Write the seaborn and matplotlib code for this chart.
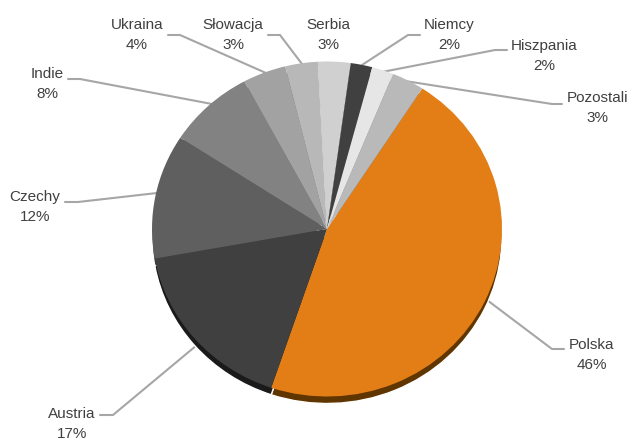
import matplotlib
matplotlib.use("Agg")
import matplotlib.pyplot as plt
import seaborn as sns

sns.set_theme(style="white")
plt.rcParams['font.family'] = ['Liberation Sans', 'DejaVu Sans']

# Data
countries = ["Polska", "Austria", "Czechy", "Indie", "Ukraina", "Słowacja",
             "Serbia", "Niemcy", "Hiszpania", "Pozostali"]
shares = [46, 17, 12, 8, 4, 3, 3, 2, 2, 3]

colors = ["#e37e16", "#404040", "#5f5f5f", "#828282", "#a2a2a2", "#b8b8b8",
          "#d0d0d0", "#404040", "#e6e6e6", "#b9b9b9"]
rim_colors = ["#5f3500", "#1a1a1a", "#333333", "#444444", "#555555", "#666666",
              "#777777", "#1a1a1a", "#888888", "#666666"]

# label centre and leader line, in reference pixels
label_pos = {
    "Polska": (592, 355), "Austria": (72, 424), "Czechy": (35, 207),
    "Indie": (47, 84), "Ukraina": (137, 35), "Słowacja": (233, 35),
    "Serbia": (328, 35), "Niemcy": (449, 35), "Hiszpania": (544, 56),
    "Pozostali": (597, 108),
}
leaders = [
    [(564, 349), (552, 349), (487, 300)],
    [(100, 415), (113, 415), (197, 345)],
    [(65, 202), (78, 202), (157, 193)],
    [(68, 79), (80, 79), (212, 104)],
    [(168, 35), (180, 35), (266, 73)],
    [(268, 35), (280, 35), (302, 64)],
    [(420, 35), (408, 35), (362, 65)],
    [(507, 50), (495, 50), (382, 72)],
    [(405, 81), (552, 104), (562, 104)],
]

W, H = 629, 442
cx, cy, rx, ry = 327, 229, 175, 167.5

fig = plt.figure(figsize=(W / 100, H / 100), dpi=100)

# overlay in pixel coordinates for the leader lines and labels
ax_txt = fig.add_axes([0, 0, 1, 1], zorder=1)
ax_txt.set_xlim(0, W)
ax_txt.set_ylim(H, 0)
ax_txt.axis("off")

ax = fig.add_axes([0, 0, 1, 1], zorder=2)
ax.patch.set_alpha(0)
# rim first, shifted a few pixels down, then the top of the pie
ax.pie(shares, colors=rim_colors, startangle=57, counterclock=False, radius=1,
       center=(0, -7 / ry), frame=True)
ax.pie(shares, colors=colors, startangle=57, counterclock=False, radius=1,
       center=(0, 0), frame=True, wedgeprops={"linewidth": 0})
ax.set_aspect("auto")
ax.set_xlim(-cx / rx, (W - cx) / rx)
ax.set_ylim((cy - H) / ry, cy / ry)
ax.axis("off")

for pts in leaders:
    ax_txt.plot([p[0] for p in pts], [p[1] for p in pts], color="#a6a6a6", lw=1.5)

for name, share in zip(countries, shares):
    x, y = label_pos[name]
    ax_txt.text(x, y, f"{name}\n{share}%", ha="center", va="center",
                fontsize=11, color="#404040", linespacing=1.55)

fig.savefig("out.png", dpi=100)
